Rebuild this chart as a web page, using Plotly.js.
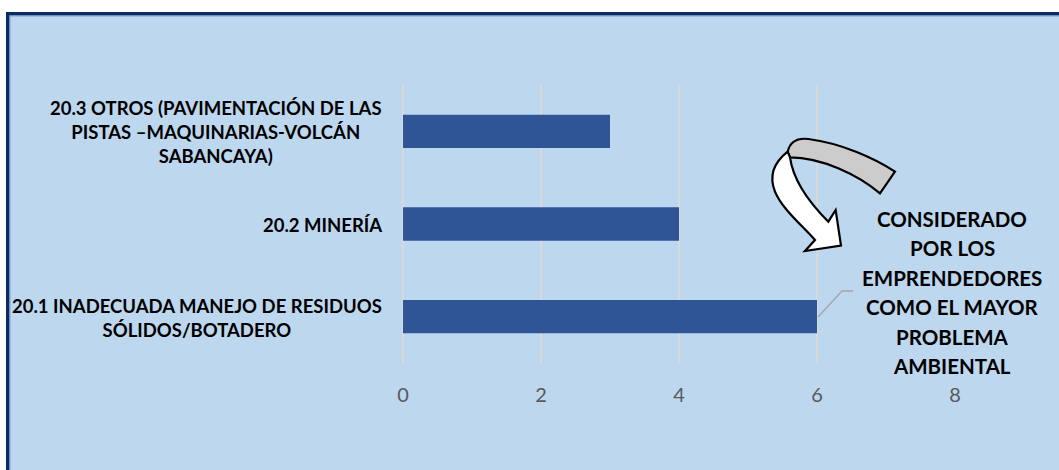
<!DOCTYPE html>
<html>
<head>
<meta charset="utf-8">
<script src="https://cdn.plot.ly/plotly-3.0.1.min.js"></script>
<style>html,body{margin:0;padding:0;background:#fff;}#chart{width:1059px;height:470px;}</style>
</head>
<body>
<div id="chart"></div>
<script>
// ---- data ----
const categories = [
  '20.1 INADECUADA MANEJO DE RESIDUOS<br>SÓLIDOS/BOTADERO',
  '20.2 MINERÍA',
  '20.3 OTROS (PAVIMENTACIÓN DE LAS<br>PISTAS –MAQUINARIAS-VOLCÁN<br>SABANCAYA)'
];
const values = [6, 4, 3];
const xTickVals = [0, 2, 4, 6, 8];
const xTickText = ['0', '2', '4', '6', '8'];
const calloutLines = ['CONSIDERADO', 'POR LOS', 'EMPRENDEDORES', 'COMO EL MAYOR', 'PROBLEMA', 'AMBIENTAL'];

// ---- layout geometry ----
const FW = 1059, FH = 470;
const M = {l: 403, r: 104, t: 85, b: 107};
const PW = FW - M.l - M.r, PH = FH - M.t - M.b;
const px = x => (x - M.l) / PW;
const py = y => 1 - (y - M.t) / PH;
const pt = (x, y) => px(x).toFixed(5) + ',' + py(y).toFixed(5);
// arrow drawn in a local sketch frame (origin 765,125 ; 1/3 scale)
const ap = (zx, zy) => pt(765 + zx / 3, 125 + zy / 3);

const grayPath = 'M' + ap(68, 80) +
  ' C' + ap(75, 50) + ' ' + ap(95, 38) + ' ' + ap(130, 42) +
  ' C' + ap(230, 55) + ' ' + ap(330, 100) + ' ' + ap(390, 140) +
  ' L' + ap(345, 205) +
  ' C' + ap(280, 150) + ' ' + ap(170, 97) + ' ' + ap(75, 97) + ' Z';
const whitePath = 'M' + ap(68, 80) +
  ' C' + ap(30, 110) + ' ' + ap(10, 150) + ' ' + ap(30, 200) +
  ' C' + ap(50, 250) + ' ' + ap(110, 300) + ' ' + ap(150, 345) +
  ' L' + ap(120, 378) + ' L' + ap(228, 362) + ' L' + ap(212, 255) + ' L' + ap(190, 290) +
  ' C' + ap(140, 240) + ' ' + ap(85, 170) + ' ' + ap(75, 97) + ' Z';
const leaderPath = 'M' + pt(818, 317) + ' L' + pt(842, 291) + ' L' + pt(853, 291);

const FONT = 'Lato, "Open Sans", sans-serif';

const shapes = [
  // white margin strips
  {type: 'rect', xref: 'paper', yref: 'paper', x0: px(0), x1: px(FW), y0: py(0), y1: py(12), fillcolor: '#ffffff', line: {width: 0}, layer: 'above'},
  {type: 'rect', xref: 'paper', yref: 'paper', x0: px(0), x1: px(6), y0: py(0), y1: py(FH), fillcolor: '#ffffff', line: {width: 0}, layer: 'above'},
  // navy frame
  {type: 'rect', xref: 'paper', yref: 'paper', x0: px(6), x1: px(FW), y0: py(12), y1: py(15.5), fillcolor: '#0b2a66', line: {width: 0}, layer: 'above'},
  {type: 'rect', xref: 'paper', yref: 'paper', x0: px(6), x1: px(9.5), y0: py(12), y1: py(FH), fillcolor: '#0b2a66', line: {width: 0}, layer: 'above'},
  {type: 'rect', xref: 'paper', yref: 'paper', x0: px(9.5), x1: px(FW), y0: py(15.5), y1: py(16.5), fillcolor: '#7f9fd0', line: {width: 0}, layer: 'above'},
  {type: 'rect', xref: 'paper', yref: 'paper', x0: px(9.5), x1: px(10.5), y0: py(15.5), y1: py(FH), fillcolor: '#7f9fd0', line: {width: 0}, layer: 'above'},
  // leader line of the callout
  {type: 'path', xref: 'paper', yref: 'paper', path: leaderPath, line: {color: '#a6a6a6', width: 1.3}, layer: 'above'},
  // curved arrow
  {type: 'path', xref: 'paper', yref: 'paper', path: grayPath, fillcolor: '#cccccc', line: {color: '#000000', width: 2.2}, layer: 'above'},
  {type: 'path', xref: 'paper', yref: 'paper', path: whitePath, fillcolor: '#ffffff', line: {color: '#000000', width: 2.2}, layer: 'above'}
];

const annotations = categories.map(c => ({
  xref: 'paper', yref: 'y', x: 0, y: c, xanchor: 'right', yanchor: 'middle',
  xshift: -19, yshift: -1, align: 'center', showarrow: false, text: c,
  font: {family: FONT, size: 18.5, color: '#000000', weight: 700}
}));
calloutLines.forEach((t, i) => annotations.push({
  xref: 'paper', yref: 'paper', x: px(952), y: py(219 + i * 29.4), xanchor: 'center', yanchor: 'middle',
  align: 'center', showarrow: false, text: t,
  font: {family: FONT, size: 20.5, color: '#000000', weight: 700}
}));

const trace = {
  type: 'bar', orientation: 'h', x: values, y: categories,
  marker: {color: '#2f5597', line: {color: '#2f5597', width: 0}},
  width: 0.36, hoverinfo: 'skip'
};

const layout = {
  width: FW, height: FH,
  margin: M,
  paper_bgcolor: '#bdd7ee', plot_bgcolor: 'rgba(0,0,0,0)',
  showlegend: false,
  xaxis: {
    range: [0, 8], tickvals: xTickVals, ticktext: xTickText,
    showgrid: true, gridcolor: '#d9d9d9', gridwidth: 1.5,
    zeroline: true, zerolinecolor: '#d9d9d9', zerolinewidth: 1.5,
    showline: false, ticks: '', ticklabelstandoff: 18,
    tickfont: {family: FONT, size: 20, color: '#595959'}, fixedrange: true
  },
  yaxis: {
    type: 'category', categoryarray: categories, range: [-0.5, 2.5],
    showticklabels: false, showgrid: false, zeroline: false, showline: false, ticks: '', fixedrange: true
  },
  shapes: shapes,
  annotations: annotations
};

Plotly.newPlot('chart', [trace], layout, {displayModeBar: false, staticPlot: true});
</script>
</body>
</html>
